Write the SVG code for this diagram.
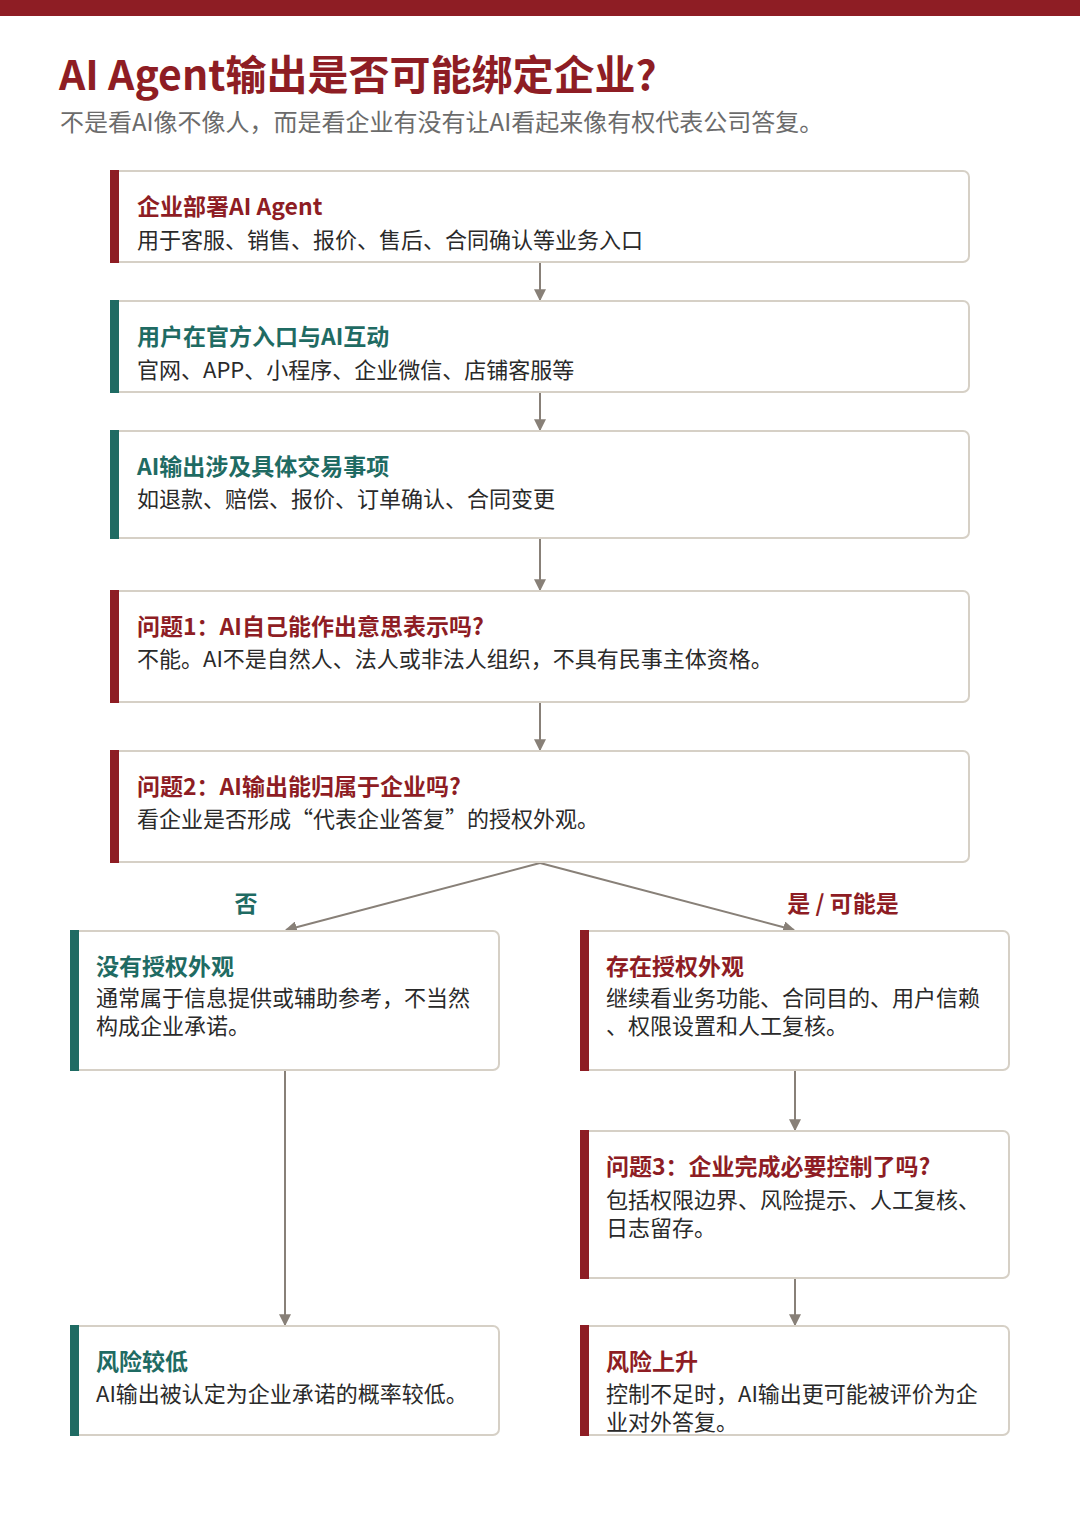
<svg xmlns="http://www.w3.org/2000/svg" width="1080" height="1540" viewBox="0 0 1080 1540">
<defs>
<style>
text{font-family:"Noto Sans CJK SC","Noto Sans",sans-serif;}
.ttl{font-size:41px;font-weight:700;fill:#8E1D24;}
.sub{font-size:24px;fill:#6b6b6b;}
.box{fill:#fff;stroke:#D6D0C6;stroke-width:2;}
.red{fill:#8E1D24;}
.teal{fill:#1F6B63;}
.ht{font-size:23px;font-weight:700;}
.bd{font-size:22px;fill:#2a2a2a;}
.lbl{font-size:23px;font-weight:700;}
.con{stroke:#888078;stroke-width:2;fill:none;}
</style>
<marker id="arr" viewBox="0 0 10 10" refX="9" refY="5" markerWidth="6" markerHeight="6" markerUnits="strokeWidth" orient="auto">
<path d="M0,0 L10,5 L0,10 z" fill="#888078"/>
</marker>
</defs>
<rect width="1080" height="1540" fill="#fff"/>
<rect x="0" y="0" width="1080" height="16" fill="#8E1D24"/>
<text class="ttl" x="59" y="90">AI Agent输出是否可能绑定企业?</text>
<text class="sub" x="60" y="131">不是看AI像不像人，而是看企业有没有让AI看起来像有权代表公司答复。</text>

<g id="connectors">
<line class="con" x1="540" y1="263" x2="540" y2="300" marker-end="url(#arr)"/>
<line class="con" x1="540" y1="393" x2="540" y2="430" marker-end="url(#arr)"/>
<line class="con" x1="540" y1="539" x2="540" y2="590" marker-end="url(#arr)"/>
<line class="con" x1="540" y1="703" x2="540" y2="750" marker-end="url(#arr)"/>
<line class="con" x1="540" y1="863" x2="286" y2="930" marker-end="url(#arr)"/>
<line class="con" x1="540" y1="863" x2="794" y2="930" marker-end="url(#arr)"/>
<line class="con" x1="285" y1="1071" x2="285" y2="1325" marker-end="url(#arr)"/>
<line class="con" x1="795" y1="1071" x2="795" y2="1130" marker-end="url(#arr)"/>
<line class="con" x1="795" y1="1279" x2="795" y2="1325" marker-end="url(#arr)"/>
<text class="lbl teal" x="246" y="912" text-anchor="middle">否</text>
<text class="lbl red" x="843" y="912" text-anchor="middle">是 / 可能是</text>
</g>

<g id="n1">
<rect class="box" x="111" y="171" width="858" height="91" rx="6"/>
<rect class="red" x="110" y="170" width="9" height="93"/>
<text class="ht red" x="137" y="215">企业部署AI Agent</text>
<text class="bd" x="137" y="248">用于客服、销售、报价、售后、合同确认等业务入口</text>
</g>
<g id="n2">
<rect class="box" x="111" y="301" width="858" height="91" rx="6"/>
<rect class="teal" x="110" y="300" width="9" height="93"/>
<text class="ht teal" x="137" y="345">用户在官方入口与AI互动</text>
<text class="bd" x="137" y="378">官网、APP、小程序、企业微信、店铺客服等</text>
</g>
<g id="n3">
<rect class="box" x="111" y="431" width="858" height="107" rx="6"/>
<rect class="teal" x="110" y="430" width="9" height="109"/>
<text class="ht teal" x="137" y="475">AI输出涉及具体交易事项</text>
<text class="bd" x="137" y="507">如退款、赔偿、报价、订单确认、合同变更</text>
</g>
<g id="n4">
<rect class="box" x="111" y="591" width="858" height="111" rx="6"/>
<rect class="red" x="110" y="590" width="9" height="113"/>
<text class="ht red" x="137" y="635">问题1：AI自己能作出意思表示吗?</text>
<text class="bd" x="137" y="667">不能。AI不是自然人、法人或非法人组织，不具有民事主体资格。</text>
</g>
<g id="n5">
<rect class="box" x="111" y="751" width="858" height="111" rx="6"/>
<rect class="red" x="110" y="750" width="9" height="113"/>
<text class="ht red" x="137" y="795">问题2：AI输出能归属于企业吗?</text>
<text class="bd" x="137" y="827">看企业是否形成“代表企业答复”的授权外观。</text>
</g>
<g id="n6">
<rect class="box" x="71" y="931" width="428" height="139" rx="6"/>
<rect class="teal" x="70" y="930" width="9" height="141"/>
<text class="ht teal" x="96" y="975">没有授权外观</text>
<text class="bd" x="96" y="1006">通常属于信息提供或辅助参考，不当然</text>
<text class="bd" x="96" y="1034">构成企业承诺。</text>
</g>
<g id="n7">
<rect class="box" x="581" y="931" width="428" height="139" rx="6"/>
<rect class="red" x="580" y="930" width="9" height="141"/>
<text class="ht red" x="606" y="975">存在授权外观</text>
<text class="bd" x="606" y="1006">继续看业务功能、合同目的、用户信赖</text>
<text class="bd" x="606" y="1034">、权限设置和人工复核。</text>
</g>
<g id="n8">
<rect class="box" x="581" y="1131" width="428" height="147" rx="6"/>
<rect class="red" x="580" y="1130" width="9" height="149"/>
<text class="ht red" x="606" y="1175">问题3：企业完成必要控制了吗?</text>
<text class="bd" x="606" y="1208">包括权限边界、风险提示、人工复核、</text>
<text class="bd" x="606" y="1236">日志留存。</text>
</g>
<g id="n9">
<rect class="box" x="71" y="1326" width="428" height="109" rx="6"/>
<rect class="teal" x="70" y="1325" width="9" height="111"/>
<text class="ht teal" x="96" y="1370">风险较低</text>
<text class="bd" x="96" y="1402">AI输出被认定为企业承诺的概率较低。</text>
</g>
<g id="n10">
<rect class="box" x="581" y="1326" width="428" height="109" rx="6"/>
<rect class="red" x="580" y="1325" width="9" height="111"/>
<text class="ht red" x="606" y="1370">风险上升</text>
<text class="bd" x="606" y="1402">控制不足时，AI输出更可能被评价为企</text>
<text class="bd" x="606" y="1430">业对外答复。</text>
</g>
</svg>
